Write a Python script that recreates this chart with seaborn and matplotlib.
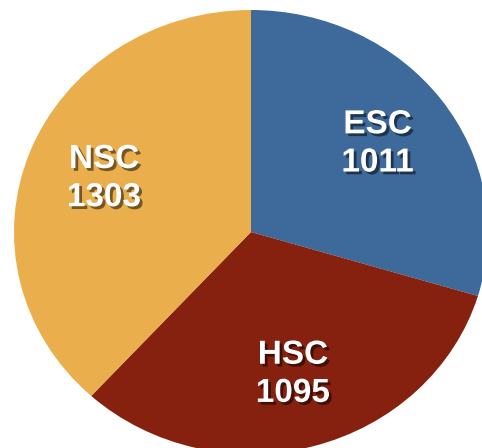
import matplotlib
matplotlib.use("Agg")
import matplotlib.pyplot as plt
import matplotlib.patheffects as pe
import seaborn as sns

# cell counts per group
groups = ["ESC", "HSC", "NSC"]
counts = [1011, 1095, 1303]
colors = ["#3D6A9B", "#86200F", "#EBAE4D"]

sns.set_theme(style="white")
plt.rcParams["font.family"] = ["Liberation Sans", "DejaVu Sans"]

fig = plt.figure(figsize=(4.82, 4.48), dpi=100)
ax = fig.add_axes([0, 0, 1, 1])

labels = ["{}\n{}".format(g, c) for g, c in zip(groups, counts)]
wedges, texts = ax.pie(counts, labels=labels, colors=colors, startangle=90,
                       counterclock=False, labeldistance=0.665,
                       wedgeprops=dict(linewidth=0))

shadow = [pe.SimplePatchShadow(offset=(2, -2), shadow_rgbFace="black", alpha=0.5),
          pe.Normal()]
for t in texts:
    t.set_color("white")
    t.set_fontsize(24)
    t.set_fontweight("bold")
    t.set_ha("center")
    t.set_va("center")
    t.set_linespacing(1.3)
    t.set_path_effects(shadow)

# pie is slightly wider than tall and cropped on the right / bottom
ax.set_aspect("auto")
ax.set_xlim(-251 / 237, (482 - 251) / 237)
ax.set_ylim(-216 / 222, 232 / 222)
ax.axis("off")

fig.savefig("out.png", dpi=100)
